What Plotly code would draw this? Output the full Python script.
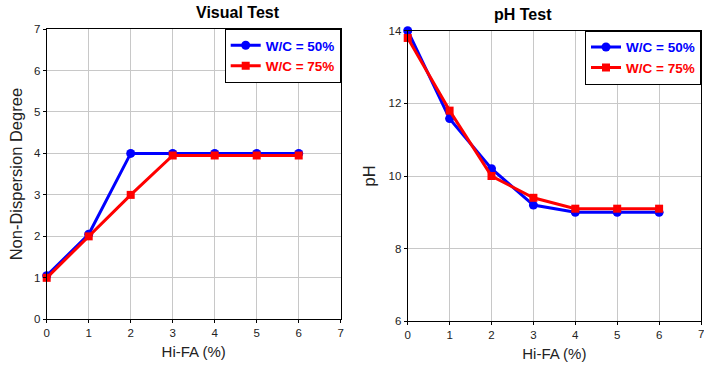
import plotly.graph_objects as go

hifa = [0, 1, 2, 3, 4, 5, 6]
visual_wc50 = [1.05, 2.05, 4.0, 4.0, 4.0, 4.0, 4.0]
visual_wc75 = [1.0, 2.0, 3.0, 3.95, 3.95, 3.95, 3.95]
ph_wc50 = [14.0, 11.58, 10.2, 9.2, 9.0, 9.0, 9.0]
ph_wc75 = [13.8, 11.8, 10.0, 9.4, 9.1, 9.1, 9.1]
names = ["W/C = 50%", "W/C = 75%"]

BLUE = "#0000FF"
RED = "#FF0000"
FONT = "Liberation Sans, Arial, sans-serif"

fig = go.Figure()

def add(x, y, name, color, symbol, xa, ya, legend, size):
    fig.add_trace(go.Scatter(
        x=x, y=y, mode="lines+markers", xaxis=xa, yaxis=ya, legend=legend,
        name="<b><span style='color:%s'>%s</span></b>" % (color, name),
        line=dict(color=color, width=3),
        marker=dict(symbol=symbol, size=size, color=color),
        cliponaxis=False,
    ))

add(hifa, visual_wc50, names[0], BLUE, "circle", "x", "y", "legend", 9)
add(hifa, visual_wc75, names[1], RED, "square", "x", "y", "legend", 8)
add(hifa, ph_wc50, names[0], BLUE, "circle", "x2", "y2", "legend2", 9)
add(hifa, ph_wc75, names[1], RED, "square", "x2", "y2", "legend2", 8)

W, H = 704, 365
ax_common = dict(showgrid=True, gridcolor="#C8C8C8", gridwidth=1,
                 showline=True, linecolor="black", linewidth=1, mirror=True,
                 ticks="outside", ticklen=3, tickcolor="black",
                 tickfont=dict(family=FONT, size=11.5, color="#222"),
                 zeroline=False, automargin=False)
xtitle_font = dict(family=FONT, size=15, color="#222")
ytitle_font = dict(family=FONT, size=16.5, color="#222")
legend_common = dict(xanchor="right", yanchor="top",
                     bgcolor="white", bordercolor="black", borderwidth=1,
                     font=dict(family=FONT, size=13.5), itemwidth=30,
                     tracegroupgap=0, entrywidth=110, entrywidthmode="pixels")

fig.update_layout(
    width=W, height=H, margin=dict(l=0, r=0, t=0, b=0, autoexpand=False),
    paper_bgcolor="white", plot_bgcolor="white",
    font=dict(family=FONT),
    xaxis=dict(domain=[46.7 / W, 340.7 / W], range=[0, 7], dtick=1, anchor="y",
               title=dict(text="Hi-FA (%)", font=xtitle_font, standoff=8),
               **ax_common),
    yaxis=dict(domain=[1 - 319.3 / H, 1 - 29 / H], range=[0, 7], dtick=1, anchor="x",
               title=dict(text="Non-Dispersion Degree", font=ytitle_font, standoff=7),
               **ax_common),
    xaxis2=dict(domain=[407.7 / W, 701 / W], range=[0, 7], dtick=1, anchor="y2",
                title=dict(text="Hi-FA (%)", font=xtitle_font, standoff=8),
                **ax_common),
    yaxis2=dict(domain=[1 - 321.3 / H, 1 - 30.7 / H], range=[6, 14], dtick=2, anchor="x2",
                title=dict(text="pH", font=ytitle_font, standoff=8),
                **ax_common),
    legend=dict(x=340.7 / W, y=1 - 29 / H, **legend_common),
    legend2=dict(x=701 / W, y=1 - 30.7 / H, **legend_common),
    annotations=[
        dict(text="<b>Visual Test</b>", x=(46.7 + 340.7) / 2 / W, y=1 - 13 / H,
             xref="paper", yref="paper", showarrow=False, yanchor="middle",
             font=dict(family=FONT, size=16, color="black")),
        dict(text="<b>pH Test</b>", x=(407.7 + 701) / 2 / W, y=1 - 15 / H,
             xref="paper", yref="paper", showarrow=False, yanchor="middle",
             font=dict(family=FONT, size=16, color="black")),
        dict(text="7", x=7, xref="x2", y=1 - 334 / H, yref="paper",
             showarrow=False, yanchor="middle",
             font=dict(family=FONT, size=11.5, color="#222")),
    ],
)

fig.write_html("out.html", config={"displayModeBar": False},
               post_script="document.body.style.margin='0';document.body.style.overflow='hidden';")
